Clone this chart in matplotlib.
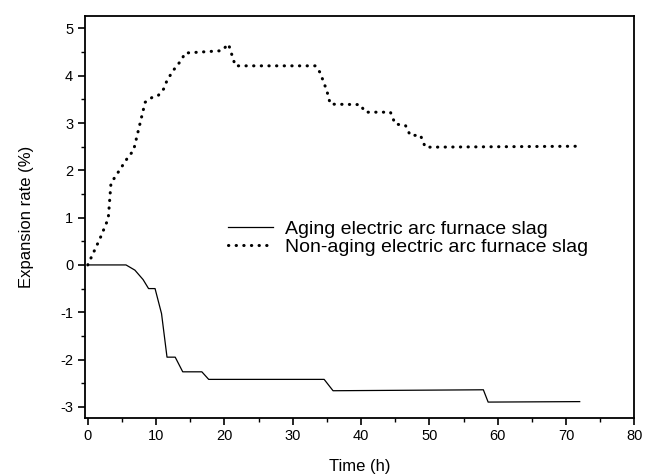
import matplotlib
import matplotlib.pyplot as plt
from matplotlib.ticker import MultipleLocator

matplotlib.use("Agg")
plt.rcParams["font.family"] = ["Liberation Sans", "DejaVu Sans"]
plt.rcParams["axes.unicode_minus"] = False

# Aging electric arc furnace slag
aging_t = [0, 5.6, 6.9, 8.1, 8.9, 9.85, 10.8, 11.6, 12.8, 13.9, 16.7, 17.7,
           34.6, 35.9, 57.9, 58.6, 72.0]
aging_y = [0, 0, -0.11, -0.31, -0.50, -0.50, -1.03, -1.95, -1.95, -2.26,
           -2.26, -2.42, -2.42, -2.66, -2.64, -2.90, -2.89]

# Non-aging electric arc furnace slag
non_t = [0, 1.8, 3.0, 3.4, 4.0, 5.9, 6.7, 7.4, 8.4, 9.4, 10.3, 11.1, 11.6,
         12.5, 13.8, 14.2, 19.6, 20.6, 21.6, 33.3, 34.0, 35.0, 35.5, 39.9,
         40.6, 44.3, 45.0, 46.5, 47.2, 48.7, 49.4, 71.8]
non_y = [0, 0.56, 0.98, 1.73, 1.86, 2.28, 2.42, 2.84, 3.44, 3.54, 3.58, 3.72,
         3.90, 4.11, 4.35, 4.48, 4.53, 4.67, 4.21, 4.21, 4.07, 3.68, 3.40,
         3.39, 3.23, 3.23, 2.98, 2.95, 2.74, 2.74, 2.49, 2.51]

fig = plt.figure(figsize=(6.56, 4.76), dpi=100)
ax = fig.add_axes([0.1296, 0.1225, 0.8374, 0.8445])

ax.plot(aging_t, aging_y, color="black", lw=0.9,
        label="Aging electric arc furnace slag")
ax.plot(non_t, non_y, color="black", lw=2.2, linestyle=(0, (0.1, 2.4)),
        dash_capstyle="round", label="Non-aging electric arc furnace slag")

ax.set_xlim(-0.4, 80)
ax.set_ylim(-3.23, 5.27)
ax.xaxis.set_major_locator(MultipleLocator(10))
ax.xaxis.set_minor_locator(MultipleLocator(5))
ax.yaxis.set_major_locator(MultipleLocator(1))
ax.yaxis.set_minor_locator(MultipleLocator(0.5))
ax.tick_params(which="major", direction="out", length=5, width=1.2, labelsize=10.5)
ax.tick_params(which="minor", direction="out", length=3, width=1.0)
for s in ax.spines.values():
    s.set_linewidth(1.3)

ax.set_xlabel("Time (h)", fontsize=12, labelpad=11)
ax.set_ylabel("Expansion rate (%)", fontsize=12, labelpad=19)

ax.legend(loc="center left", bbox_to_anchor=(0.243, 0.447), frameon=False,
          fontsize=14, handlelength=2.3, handletextpad=0.6, labelspacing=0.0,
          borderpad=0)

fig.savefig("out.png", dpi=100)
